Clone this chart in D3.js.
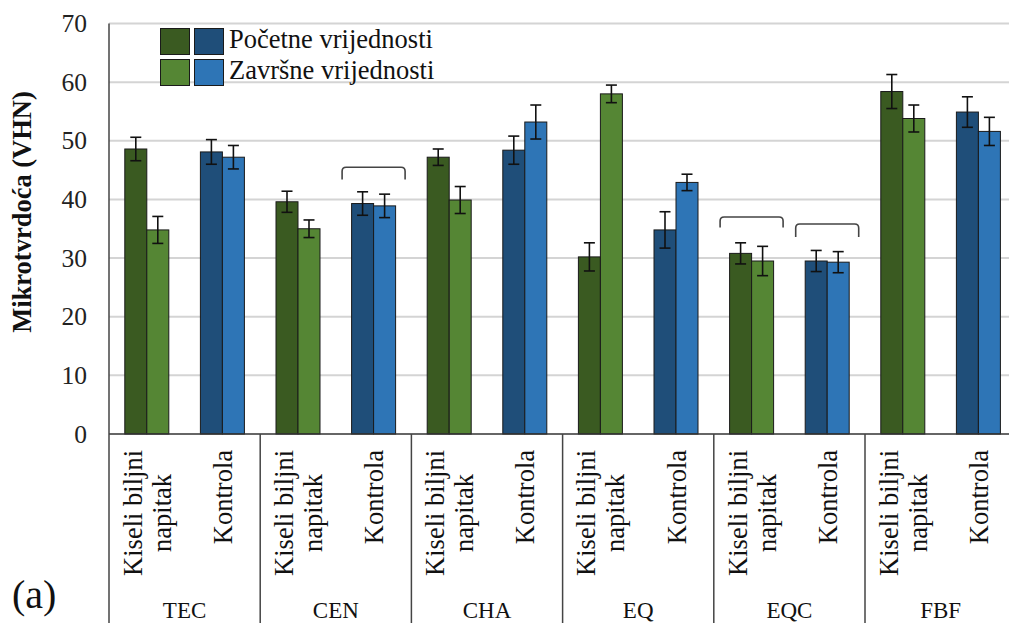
<!DOCTYPE html>
<html>
<head>
<meta charset="utf-8">
<script src="https://cdn.jsdelivr.net/npm/d3@7"></script>
<style>
  body { margin: 0; background: #fff; }
  svg text { font-family: "Liberation Serif", "Times New Roman", serif; }
</style>
</head>
<body>
<script>
// chart values
var groups = ["TEC", "CEN", "CHA", "EQ", "EQC", "FBF"];
var subgroups = [["Kiseli biljni", "napitak"], ["Kontrola"]];
var initial    = [48.6, 48.1, 39.6, 39.3, 47.2, 48.4, 30.2, 34.8, 30.8, 29.5, 58.4, 54.9];
var initialErr = [2.0, 2.1, 1.8, 2.0, 1.4, 2.4, 2.4, 3.1, 1.8, 1.8, 2.9, 2.6];
var final      = [34.8, 47.2, 35.0, 38.9, 39.9, 53.2, 58.0, 42.9, 29.5, 29.3, 53.8, 51.6];
var finalErr   = [2.3, 2.0, 1.5, 2.0, 2.3, 2.9, 1.5, 1.4, 2.5, 1.8, 2.3, 2.4];
var yTicks = [0, 10, 20, 30, 40, 50, 60, 70];
var legendLabels = ["Početne vrijednosti", "Završne vrijednosti"];
// brackets: category index, top value, end value
var brackets = [[3, 45.5, 43.4], [8, 37.0, 35.2], [9, 35.8, 33.6]];

drawChart();

function drawChart(){

  var width = 1009, height = 623;
  var left = 109, bandW = 75.6, plotTop = 23.5, bottom = 434;

  var colors = {
    init: ["#3a5a21", "#1f4e79"],
    fin:  ["#558634", "#2e75b6"]
  };

  var svg = d3.select("body").append("svg")
    .attr("width", width)
    .attr("height", height)
    .attr("font-family", "Liberation Serif, serif");

  // one row per bar category
  var cats = [];
  groups.forEach(function(g, gi){
    subgroups.forEach(function(s, si){
      cats.push({ id: g + si, group: gi, sub: si, lines: s });
    });
  });
  cats.forEach(function(c, i){
    c.init = initial[i]; c.initErr = initialErr[i];
    c.fin = final[i]; c.finErr = finalErr[i];
  });

  var x = d3.scaleBand()
    .domain(cats.map(function(c){ return c.id; }))
    .range([left, left + bandW * cats.length]);

  var xg = d3.scaleBand()
    .domain(groups)
    .range([left, left + bandW * cats.length]);

  var y = d3.scaleLinear()
    .domain([0, 70])
    .range([bottom, plotTop]);

  // gridlines
  svg.append("g")
    .selectAll("line")
    .data(yTicks.slice(1))
    .enter().append("line")
    .attr("x1", left).attr("x2", width)
    .attr("y1", function(d){ return y(d); })
    .attr("y2", function(d){ return y(d); })
    .attr("stroke", "#d4d4d4")
    .attr("stroke-width", 2);

  // y tick labels
  var yAxis = svg.append("g")
    .attr("transform", "translate(" + (left - 22) + ",0)")
    .call(d3.axisLeft(y).tickValues(yTicks).tickSize(0).tickPadding(0));
  yAxis.attr("font-family", null).attr("font-size", null);
  yAxis.select(".domain").remove();
  yAxis.selectAll("text")
    .attr("font-size", 25.5)
    .attr("fill", "#222");

  // y axis title
  svg.append("text")
    .attr("transform", "translate(31,212) rotate(-90)")
    .attr("text-anchor", "middle")
    .attr("font-size", 26.5)
    .attr("font-weight", "bold")
    .attr("fill", "#111")
    .text("Mikrotvrdoća (VHN)");

  var barW = 22;

  // bars
  var bars = svg.append("g");
  bars.selectAll(".init")
    .data(cats)
    .enter().append("rect")
    .attr("class", "init")
    .attr("x", function(c){ return x(c.id) + x.bandwidth() / 2 - barW; })
    .attr("y", function(c){ return y(c.init); })
    .attr("width", barW)
    .attr("height", function(c){ return bottom - y(c.init); })
    .attr("fill", function(c){ return colors.init[c.sub]; })
    .attr("stroke", "#1a1a1a")
    .attr("stroke-width", 1);

  bars.selectAll(".fin")
    .data(cats)
    .enter().append("rect")
    .attr("class", "fin")
    .attr("x", function(c){ return x(c.id) + x.bandwidth() / 2; })
    .attr("y", function(c){ return y(c.fin); })
    .attr("width", barW)
    .attr("height", function(c){ return bottom - y(c.fin); })
    .attr("fill", function(c){ return colors.fin[c.sub]; })
    .attr("stroke", "#1a1a1a")
    .attr("stroke-width", 1);

  // error bars
  function errBar(sel, cx, v, e){
    var g = sel.append("g").attr("stroke", "#111").attr("stroke-width", 1.6);
    g.append("line").attr("x1", cx).attr("x2", cx).attr("y1", y(v + e)).attr("y2", y(v - e));
    g.append("line").attr("x1", cx - 5.5).attr("x2", cx + 5.5).attr("y1", y(v + e)).attr("y2", y(v + e));
    g.append("line").attr("x1", cx - 5.5).attr("x2", cx + 5.5).attr("y1", y(v - e)).attr("y2", y(v - e));
  }
  var errs = svg.append("g");
  cats.forEach(function(c){
    var cx = x(c.id) + x.bandwidth() / 2;
    errBar(errs, cx - barW / 2, c.init, c.initErr);
    errBar(errs, cx + barW / 2, c.fin, c.finErr);
  });

  // brackets
  var bw = 31.5, r = 4;
  svg.append("g")
    .selectAll("path")
    .data(brackets)
    .enter().append("path")
    .attr("d", function(b){
      var cx = x(cats[b[0]].id) + x.bandwidth() / 2;
      var yt = y(b[1]), ye = y(b[2]);
      return "M" + (cx - bw) + "," + ye + "V" + (yt + r) +
        "Q" + (cx - bw) + "," + yt + " " + (cx - bw + r) + "," + yt +
        "H" + (cx + bw - r) +
        "Q" + (cx + bw) + "," + yt + " " + (cx + bw) + "," + (yt + r) +
        "V" + ye;
    })
    .attr("fill", "none")
    .attr("stroke", "#444")
    .attr("stroke-width", 1.6);

  // axes lines
  svg.append("line")
    .attr("x1", left).attr("x2", width)
    .attr("y1", bottom).attr("y2", bottom)
    .attr("stroke", "#333").attr("stroke-width", 1.5);
  svg.append("line")
    .attr("x1", left).attr("x2", left)
    .attr("y1", plotTop).attr("y2", height)
    .attr("stroke", "#444").attr("stroke-width", 1.5);

  // group separators
  svg.append("g")
    .selectAll("line")
    .data(groups.slice(1))
    .enter().append("line")
    .attr("x1", function(g){ return xg(g); })
    .attr("x2", function(g){ return xg(g); })
    .attr("y1", bottom).attr("y2", height)
    .attr("stroke", "#444").attr("stroke-width", 1.5);

  // category labels, rotated
  var lineH = 29;
  cats.forEach(function(c){
    var cx = x(c.id) + x.bandwidth() / 2;
    var n = c.lines.length;
    var g = svg.append("g");
    var texts = c.lines.map(function(t, i){
      var base = cx + 9.5 + (i - (n - 1) / 2) * lineH;
      return g.append("text")
        .attr("font-size", 26.5)
        .attr("fill", "#111")
        .attr("text-anchor", "middle")
        .attr("data-base", base)
        .text(t);
    });
    var maxLen = d3.max(texts, function(t){ return t.node().getComputedTextLength(); });
    var mid = 450 + maxLen / 2;
    texts.forEach(function(t){
      t.attr("transform", "translate(" + t.attr("data-base") + "," + mid + ") rotate(-90)");
    });
  });

  // group labels
  svg.append("g")
    .selectAll("text")
    .data(groups)
    .enter().append("text")
    .attr("x", function(g){ return xg(g) + xg.bandwidth() / 2; })
    .attr("y", 618)
    .attr("text-anchor", "middle")
    .attr("font-size", 23)
    .attr("fill", "#111")
    .text(function(g){ return g; });

  // panel label
  svg.append("text")
    .attr("x", 12).attr("y", 608)
    .attr("font-size", 40)
    .attr("fill", "#111")
    .text("(a)");

  // legend
  var legend = svg.append("g");
  legendLabels.forEach(function(lbl, i){
    var ly = 28.5 + i * 31;
    var key = i === 0 ? "init" : "fin";
    colors[key].forEach(function(col, j){
      legend.append("rect")
        .attr("x", 160.5 + j * 34)
        .attr("y", ly)
        .attr("width", 29)
        .attr("height", 26)
        .attr("fill", col)
        .attr("stroke", "#1a1a1a")
        .attr("stroke-width", 1);
    });
    legend.append("text")
      .attr("x", 229)
      .attr("y", ly + 19)
      .attr("font-size", 26.5)
      .attr("fill", "#111")
      .text(lbl);
  });
}
</script>
</body>
</html>
